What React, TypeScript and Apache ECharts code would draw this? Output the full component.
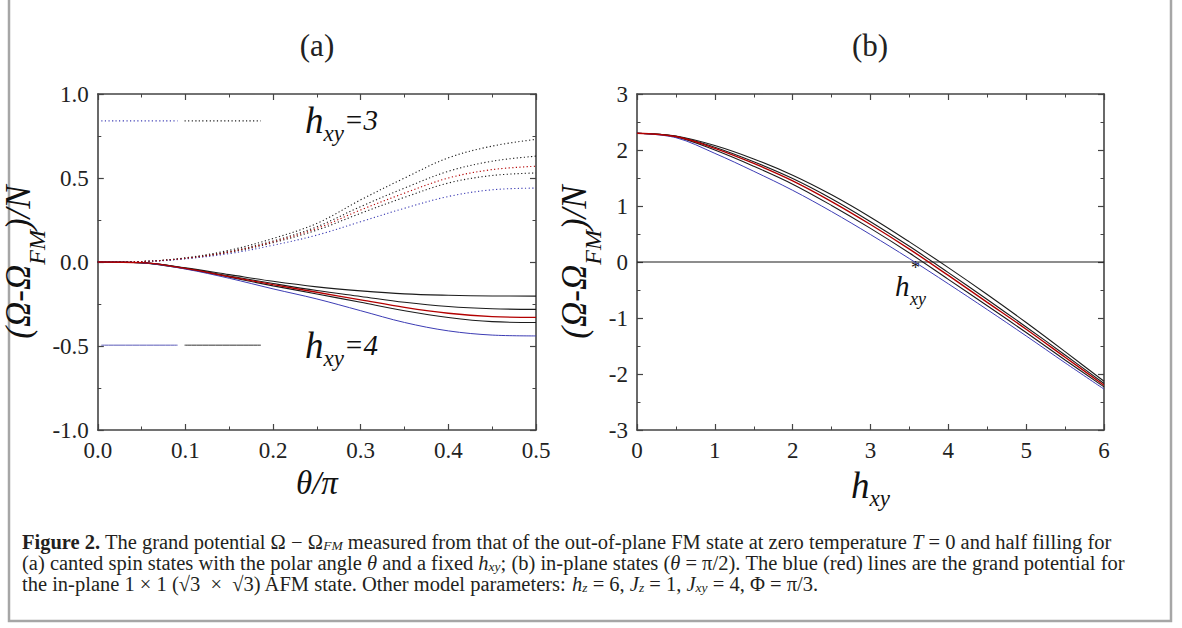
import React, { useEffect, useRef } from "react";
import * as echarts from "echarts";

// ---------- Panel (a): theta/pi vs (Ω-Ω_FM)/N ----------
const thetaX = [0, 0.05, 0.1, 0.15, 0.2, 0.25, 0.3, 0.35, 0.4, 0.45, 0.5];
// h_xy = 3 (dotted)
const dotBlack1 = [0, 0.003, 0.025, 0.07, 0.14, 0.23, 0.37, 0.5, 0.62, 0.69, 0.73];
const dotBlack2 = [0, 0.003, 0.023, 0.063, 0.125, 0.21, 0.33, 0.44, 0.54, 0.6, 0.63];
const dotRed = [0, 0.003, 0.022, 0.06, 0.12, 0.2, 0.31, 0.41, 0.5, 0.55, 0.57];
const dotBlack3 = [0, 0.003, 0.021, 0.057, 0.115, 0.19, 0.29, 0.385, 0.47, 0.515, 0.53];
const dotBlue = [0, 0.002, 0.019, 0.05, 0.1, 0.16, 0.24, 0.32, 0.39, 0.43, 0.44];
// h_xy = 4 (solid)
const solBlack1 = [0, -0.004, -0.035, -0.075, -0.115, -0.148, -0.172, -0.19, -0.198, -0.202, -0.203];
const solBlack2 = [0, -0.004, -0.037, -0.083, -0.128, -0.17, -0.205, -0.24, -0.265, -0.278, -0.282];
const solRed = [0, -0.004, -0.038, -0.087, -0.135, -0.18, -0.225, -0.27, -0.305, -0.325, -0.33];
const solBlack3 = [0, -0.005, -0.04, -0.09, -0.142, -0.19, -0.24, -0.29, -0.33, -0.355, -0.36];
const solBlue = [0, -0.005, -0.042, -0.097, -0.16, -0.22, -0.29, -0.36, -0.41, -0.435, -0.44];
// legend keys (data coordinates)
const keyBlueX = [0.004, 0.091];
const keyBlackX = [0.099, 0.186];
const keyDotY = 0.84;
const keySolY = -0.495;

// ---------- Panel (b): h_xy vs (Ω-Ω_FM)/N ----------
const hxyX = [0, 0.5, 1, 1.5, 2, 2.5, 3, 3.5, 4, 4.5, 5, 5.5, 6];
const bBlack1 = [2.3, 2.25, 2.08, 1.84, 1.55, 1.2, 0.8, 0.36, -0.1, -0.58, -1.08, -1.6, -2.13];
const bBlack2 = [2.3, 2.245, 2.05, 1.79, 1.49, 1.13, 0.72, 0.28, -0.19, -0.67, -1.16, -1.66, -2.17];
const bRed = [2.3, 2.24, 2.03, 1.76, 1.45, 1.08, 0.67, 0.23, -0.24, -0.72, -1.2, -1.7, -2.2];
const bBlack3 = [2.3, 2.235, 2.0, 1.71, 1.39, 1.01, 0.6, 0.16, -0.31, -0.78, -1.26, -1.75, -2.23];
const bBlue = [2.3, 2.22, 1.94, 1.62, 1.28, 0.9, 0.49, 0.06, -0.39, -0.85, -1.32, -1.8, -2.27];
const zeroLineX = [0, 6];

// ---------- styling ----------
const SERIF = "Liberation Serif";
const BLACK = "#1c1c1c";
const RED = "#b30000";
const BLUE = "#3c3cb4";
const AXIS = "#444";

const zip = (xs: number[], ys: number[]) => xs.map((x, i) => [x, ys[i]]);

function axisCommon(extra: any) {
  return {
    axisLine: { show: true, onZero: false, lineStyle: { color: AXIS, width: 1.6 } },
    axisTick: { show: true, inside: true, length: 6, lineStyle: { color: AXIS, width: 1.2 } },
    minorTick: { show: true, splitNumber: 2, length: 3.5, lineStyle: { color: AXIS, width: 1 } },
    splitLine: { show: false },
    minorSplitLine: { show: false },
    ...extra,
  };
}

const labelStyle = (fmt?: (v: number) => string) => ({
  show: true,
  fontFamily: SERIF,
  fontSize: 23,
  color: "#222",
  margin: 9,
  formatter: fmt,
});

const yNameRich = {
  a: { fontFamily: SERIF, fontStyle: "italic", fontSize: 35, color: "#111", lineHeight: 60 },
  s: { fontFamily: SERIF, fontStyle: "italic", fontSize: 24, color: "#111", lineHeight: 24, verticalAlign: "bottom" },
};

function lineSeries(name: string, xi: number, yi: number, data: number[][], color: string, dotted: boolean, width = 1.1) {
  return {
    name,
    type: "line",
    xAxisIndex: xi,
    yAxisIndex: yi,
    data,
    smooth: 0.35,
    symbol: "none",
    silent: true,
    lineStyle: { color, width, type: dotted ? [1.2, 2.4] : "solid" },
  };
}

function buildOption() {
  const fmt1 = (v: number) => v.toFixed(1);
  const xAxes = [
    axisCommon({ gridIndex: 0, type: "value", min: 0, max: 0.5, interval: 0.1, position: "bottom",
      axisLabel: labelStyle(fmt1), name: "θ/π", nameLocation: "middle", nameGap: 33,
      nameTextStyle: { fontFamily: SERIF, fontStyle: "italic", fontSize: 33, color: "#111", lineHeight: 33 } }),
    axisCommon({ gridIndex: 0, type: "value", min: 0, max: 0.5, interval: 0.1, position: "top", axisLabel: { show: false } }),
    axisCommon({ gridIndex: 1, type: "value", min: 0, max: 6, interval: 1, position: "bottom",
      axisLabel: labelStyle(), name: "{h|h}{s|xy}", nameLocation: "middle", nameGap: 22,
      nameTextStyle: { rich: {
        h: { fontFamily: SERIF, fontStyle: "italic", fontSize: 37, color: "#111", lineHeight: 50 },
        s: { fontFamily: SERIF, fontStyle: "italic", fontSize: 23, color: "#111", lineHeight: 23, verticalAlign: "bottom" },
      } } }),
    axisCommon({ gridIndex: 1, type: "value", min: 0, max: 6, interval: 1, position: "top", axisLabel: { show: false } }),
  ];
  const yAxes = [
    axisCommon({ gridIndex: 0, type: "value", min: -1, max: 1, interval: 0.5, position: "left",
      axisLabel: labelStyle(fmt1), name: "{a|(Ω-Ω}{s|FM}{a|)/N}", nameLocation: "middle", nameGap: 45,
      nameTextStyle: { rich: yNameRich } }),
    axisCommon({ gridIndex: 0, type: "value", min: -1, max: 1, interval: 0.5, position: "right", axisLabel: { show: false } }),
    axisCommon({ gridIndex: 1, type: "value", min: -3, max: 3, interval: 1, position: "left",
      axisLabel: labelStyle(), name: "{a|(Ω-Ω}{s|FM}{a|)/N}", nameLocation: "middle", nameGap: 27,
      nameTextStyle: { rich: yNameRich } }),
    axisCommon({ gridIndex: 1, type: "value", min: -3, max: 3, interval: 1, position: "right", axisLabel: { show: false } }),
  ];

  const series: any[] = [
    // panel (a), h_xy = 3 dotted
    lineSeries("a3-k1", 0, 0, zip(thetaX, dotBlack1), BLACK, true),
    lineSeries("a3-k2", 0, 0, zip(thetaX, dotBlack2), BLACK, true),
    lineSeries("a3-k3", 0, 0, zip(thetaX, dotBlack3), BLACK, true),
    lineSeries("a3-blue", 0, 0, zip(thetaX, dotBlue), BLUE, true),
    lineSeries("a3-red", 0, 0, zip(thetaX, dotRed), RED, true),
    // panel (a), h_xy = 4 solid
    lineSeries("a4-k1", 0, 0, zip(thetaX, solBlack1), BLACK, false),
    lineSeries("a4-k2", 0, 0, zip(thetaX, solBlack2), BLACK, false),
    lineSeries("a4-k3", 0, 0, zip(thetaX, solBlack3), BLACK, false),
    lineSeries("a4-blue", 0, 0, zip(thetaX, solBlue), BLUE, false, 1),
    lineSeries("a4-red", 0, 0, zip(thetaX, solRed), RED, false, 1.3),
    // legend keys
    lineSeries("key3-blue", 0, 0, keyBlueX.map((x) => [x, keyDotY]), BLUE, true),
    lineSeries("key3-black", 0, 0, keyBlackX.map((x) => [x, keyDotY]), BLACK, true),
    lineSeries("key4-blue", 0, 0, keyBlueX.map((x) => [x, keySolY]), "#5a5ab8", false, 1),
    lineSeries("key4-black", 0, 0, keyBlackX.map((x) => [x, keySolY]), "#333", false, 1),
    // panel (b)
    lineSeries("b-zero", 2, 2, zeroLineX.map((x) => [x, 0]), BLACK, false, 1.1),
    lineSeries("b-k1", 2, 2, zip(hxyX, bBlack1), BLACK, false, 1.1),
    lineSeries("b-k2", 2, 2, zip(hxyX, bBlack2), BLACK, false, 1.1),
    lineSeries("b-k3", 2, 2, zip(hxyX, bBlack3), BLACK, false, 1.1),
    lineSeries("b-blue", 2, 2, zip(hxyX, bBlue), BLUE, false, 1),
    lineSeries("b-red", 2, 2, zip(hxyX, bRed), RED, false, 1.4),
  ];

  const legendRich = {
    h: { fontFamily: SERIF, fontStyle: "italic", fontSize: 37, fill: "#111", lineHeight: 50 },
    s: { fontFamily: SERIF, fontStyle: "italic", fontSize: 23, fill: "#111", lineHeight: 23, verticalAlign: "bottom" },
    e: { fontFamily: SERIF, fontStyle: "italic", fontSize: 29, fill: "#111", lineHeight: 50 },
  };

  const capN = { fontFamily: SERIF, fontSize: 20.5, fill: "#231f20", lineHeight: 20 };
  const capRich = {
    n: capN,
    b: { ...capN, fontWeight: "bold" },
    i: { ...capN, fontStyle: "italic" },
    s: { fontFamily: SERIF, fontStyle: "italic", fontSize: 13.5, fill: "#231f20", lineHeight: 9, verticalAlign: "bottom" },
  };

  const capLines = [
    "{b|Figure 2.}{n| The grand potential Ω − Ω}{s|FM}{n| measured from that of the out-of-plane FM state at zero temperature }{i|T}{n| = 0 and half filling for}",
    "{n|(a) canted spin states with the polar angle }{i|θ}{n| and a fixed }{i|h}{s|xy}{n|; (b) in-plane states (}{i|θ}{n| = π/2). The blue (red) lines are the grand potential for}",
    "{n|the in-plane 1 × 1 (√3  ×  √3) AFM state. Other model parameters: }{i|h}{s|z}{n| = 6, }{i|J}{s|z}{n| = 1, }{i|J}{s|xy}{n| = 4, Φ = π/3.}",
  ];
  const capY = [542, 563, 584];

  const graphic: any[] = [
    { type: "rect", silent: true, shape: { x: 9, y: -10, width: 1162, height: 631 },
      style: { fill: "none", stroke: "#a6a6a6", lineWidth: 2.5 } },
    { type: "text", x: 317, y: 45, style: { text: "(a)", font: `31px '${SERIF}'`, fill: "#222", align: "center", verticalAlign: "middle" } },
    { type: "text", x: 870, y: 45, style: { text: "(b)", font: `31px '${SERIF}'`, fill: "#222", align: "center", verticalAlign: "middle" } },
    { type: "text", x: 305, y: 120, style: { text: "{h|h}{s|xy}{e|=3}", rich: legendRich, align: "left", verticalAlign: "middle" } },
    { type: "text", x: 305, y: 345, style: { text: "{h|h}{s|xy}{e|=4}", rich: legendRich, align: "left", verticalAlign: "middle" } },
    // h*_xy annotation
    { type: "text", x: 895, y: 286, style: { text: "h", font: `italic 29px '${SERIF}'`, lineHeight: 22, fill: "#111", align: "left", verticalAlign: "middle" } },
    { type: "text", x: 911, y: 268, style: { text: "*", font: `18px '${SERIF}'`, lineHeight: 10, fill: "#111", align: "left", verticalAlign: "middle" } },
    { type: "text", x: 910, y: 299, style: { text: "xy", font: `italic 18px '${SERIF}'`, lineHeight: 14, fill: "#111", align: "left", verticalAlign: "middle" } },
    ...capLines.map((t, i) => ({
      type: "text", x: 22, y: capY[i],
      style: { text: t, rich: capRich, align: "left", verticalAlign: "middle" },
    })),
  ];

  return {
    animation: false,
    backgroundColor: "#fff",
    grid: [
      { left: 97, top: 94, width: 439, height: 336 },
      { left: 637, top: 94, width: 467, height: 336 },
    ],
    xAxis: xAxes,
    yAxis: yAxes,
    series,
    graphic,
  };
}

export default function App() {
  const ref = useRef<HTMLDivElement>(null);
  useEffect(() => {
    document.body.style.margin = "0";
    if (!ref.current) return;
    const chart = echarts.init(ref.current, null, { renderer: "svg" });
    chart.setOption(buildOption() as any);
    return () => chart.dispose();
  }, []);
  return <div ref={ref} style={{ width: 1182, height: 628, position: "absolute", left: 0, top: 0 }} />;
}
